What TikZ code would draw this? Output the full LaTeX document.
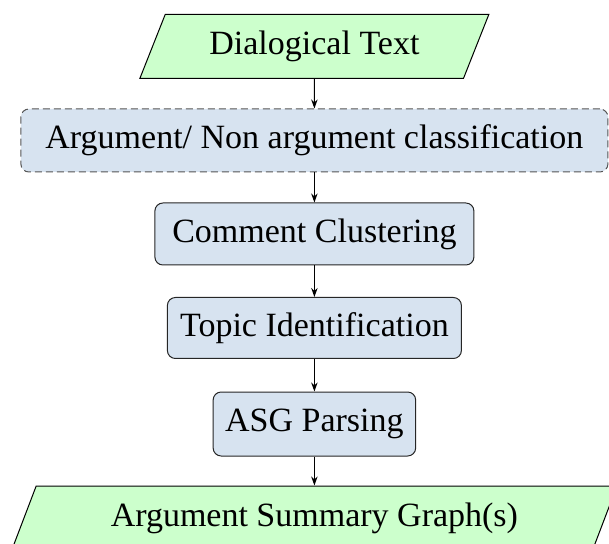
\documentclass[tikz,border=0pt]{standalone}
\usepackage{fontspec}
\setmainfont{Liberation Serif}
\usetikzlibrary{shapes.geometric,arrows.meta}
\definecolor{ioGreen}{RGB}{204,255,204}
\definecolor{procBlue}{RGB}{215,227,240}
\definecolor{dashGray}{RGB}{85,85,85}
\tikzset{
  iobox/.style={trapezium, trapezium left angle=60, trapezium right angle=120,
    trapezium stretches=true, draw=black, fill=ioGreen, line width=0.5pt,
    inner sep=0pt, font=\fontsize{17}{20}\selectfont},
  procbox/.style={rectangle, rounded corners=4pt, draw=black!85, fill=procBlue,
    line width=0.5pt, inner sep=0pt, font=\fontsize{17}{20}\selectfont},
  optbox/.style={procbox, draw=dashGray, dash pattern=on 3.5pt off 2pt},
  flow/.style={-{Stealth[length=4.5pt,width=3.2pt]}, line width=0.5pt}
}
\begin{document}
\begin{tikzpicture}
\useasboundingbox (0,0) rectangle (304.5pt,-272pt);
\node[iobox, minimum width=174.6pt, minimum height=32pt] (dt) at (157.2pt,-23.15pt) {Dialogical Text};
\node[optbox, minimum width=293.5pt, minimum height=31.5pt] (cls) at (157.2pt,-70.25pt) {Argument/ Non argument classification};
\node[procbox, minimum width=159.5pt, minimum height=31pt] (cc) at (157.2pt,-117pt) {Comment Clustering};
\node[procbox, minimum width=147pt, minimum height=30.5pt] (ti) at (157.2pt,-164pt) {Topic Identification};
\node[procbox, minimum width=101.25pt, minimum height=32pt] (asg) at (157.2pt,-212pt) {ASG Parsing};
\node[iobox, minimum width=303.5pt, minimum height=32pt] (out) at (157.2pt,-259pt) {Argument Summary Graph(s)};
\draw[flow] (dt) -- (cls);
\draw[flow] (cls) -- (cc);
\draw[flow] (cc) -- (ti);
\draw[flow] (ti) -- (asg);
\draw[flow] (asg) -- (out);
\end{tikzpicture}
\end{document}
